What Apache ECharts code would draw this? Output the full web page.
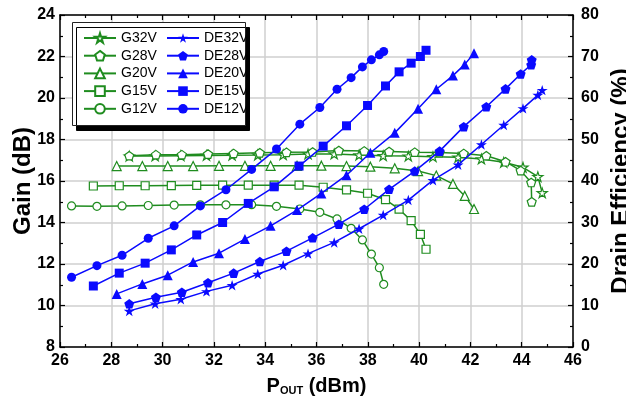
<!DOCTYPE html>
<html>
<head>
<meta charset="utf-8">
<script src="https://cdn.jsdelivr.net/npm/echarts@6/dist/echarts.min.js"></script>
<style>
  html, body { margin: 0; padding: 0; background: #fff; }
  #chart { width: 626px; height: 400px; }
</style>
</head>
<body>
<div id="chart"></div>
<script>
// Pout (dBm) per drain voltage, shared by gain and efficiency curves
const x12 = [26.45, 27.44, 28.42, 29.44, 30.45, 31.47, 32.47, 33.47, 34.44, 35.35, 36.13, 36.8, 37.35, 37.79, 38.14, 38.45, 38.62];
const x15 = [27.3, 28.31, 29.32, 30.34, 31.33, 32.34, 33.34, 34.35, 35.32, 36.26, 37.17, 37.99, 38.69, 39.22, 39.69, 40.05, 40.27];
const x20 = [28.21, 29.21, 30.2, 31.19, 32.2, 33.21, 34.21, 35.24, 36.19, 37.17, 38.1, 39.05, 39.96, 40.67, 41.32, 41.78, 42.14];
const x28 = [28.7, 29.74, 30.75, 31.77, 32.77, 33.79, 34.83, 35.85, 36.87, 37.86, 38.83, 39.83, 40.8, 41.74, 42.62, 43.37, 43.96, 44.37, 44.39];
const x32 = [28.7, 29.71, 30.71, 31.71, 32.71, 33.71, 34.7, 35.67, 36.69, 37.66, 38.6, 39.58, 40.54, 41.52, 42.43, 43.3, 44.05, 44.63, 44.8];

// gain (dB)
const g12 = [14.8, 14.78, 14.8, 14.82, 14.84, 14.85, 14.85, 14.86, 14.78, 14.65, 14.49, 14.17, 13.72, 13.16, 12.48, 11.82, 11.02];
const g15 = [15.76, 15.77, 15.77, 15.78, 15.79, 15.8, 15.8, 15.8, 15.8, 15.7, 15.57, 15.41, 15.1, 14.64, 14.09, 13.43, 12.71];
const g20 = [16.72, 16.72, 16.72, 16.72, 16.73, 16.73, 16.73, 16.73, 16.74, 16.72, 16.69, 16.61, 16.48, 16.26, 15.86, 15.28, 14.65];
const g28 = [17.22, 17.27, 17.27, 17.3, 17.33, 17.36, 17.38, 17.4, 17.47, 17.45, 17.42, 17.39, 17.37, 17.33, 17.22, 16.93, 16.5, 15.93, 15.0];
const g32 = [17.2, 17.21, 17.22, 17.23, 17.24, 17.25, 17.27, 17.3, 17.3, 17.25, 17.22, 17.2, 17.17, 17.14, 17.06, 16.9, 16.66, 16.21, 15.43];

// drain efficiency (%)
const de12 = [16.8, 19.6, 22.1, 26.2, 29.2, 34.0, 37.9, 42.8, 47.7, 53.7, 57.7, 62.1, 64.9, 67.5, 69.2, 70.4, 71.2];
const de15 = [14.7, 17.8, 20.2, 23.4, 27.0, 30.0, 34.6, 38.6, 43.6, 48.4, 53.3, 58.2, 62.9, 66.3, 68.4, 70.0, 71.5];
const de20 = [12.8, 15.2, 17.3, 20.5, 22.6, 26.0, 29.2, 33.0, 37.0, 41.4, 46.8, 51.6, 57.4, 62.1, 65.4, 68.1, 70.8];
const de28 = [10.4, 12.0, 13.2, 15.5, 17.8, 20.6, 23.1, 26.3, 29.6, 33.2, 38.0, 42.4, 47.2, 53.1, 57.9, 62.2, 65.8, 68.0, 69.2];
const de32 = [8.7, 10.4, 11.5, 13.4, 14.9, 17.6, 19.7, 22.5, 25.2, 28.5, 31.8, 35.4, 40.2, 43.9, 48.8, 53.5, 57.5, 60.7, 61.9];

const gainNames = ["G32V", "G28V", "G20V", "G15V", "G12V"];
const effNames = ["DE32V", "DE28V", "DE20V", "DE15V", "DE12V"];

const GREEN = "#1f8c1f";
const BLUE = "#0a0aff";
const FONT = "Liberation Sans";

const STAR = "path://M0,-10L2.245,-3.09L9.51,-3.09L3.633,1.18L5.878,8.09L0,3.82L-5.878,8.09L-3.633,1.18L-9.51,-3.09L-2.245,-3.09Z";
const PENTA = "path://M0,-10L9.51,-3.09L5.878,8.09L-5.878,8.09L-9.51,-3.09Z";

const zip = (xs, ys) => xs.map((x, i) => [x, ys[i]]);

function gainSeries(name, xs, ys, symbol, size) {
  return {
    name, type: "line", xAxisIndex: 0, yAxisIndex: 0,
    data: zip(xs, ys),
    symbol, symbolSize: size, symbolKeepAspect: true,
    color: GREEN,
    itemStyle: { color: "#fff", borderColor: GREEN, borderWidth: 1.2 },
    lineStyle: { color: GREEN, width: 1.5 },
    emphasis: { disabled: true },
    z: 2,
  };
}

function effSeries(name, xs, ys, symbol, size) {
  return {
    name, type: "line", xAxisIndex: 0, yAxisIndex: 1,
    data: zip(xs, ys),
    symbol, symbolSize: size, symbolKeepAspect: true,
    color: BLUE,
    itemStyle: { color: BLUE },
    lineStyle: { color: BLUE, width: 1.5 },
    emphasis: { disabled: true },
    z: 3,
  };
}

const tickLabel = { color: "#000", fontFamily: FONT, fontWeight: "bold", fontSize: 16 };
const nameStyle = { color: "#000", fontFamily: FONT, fontWeight: "bold", fontSize: 24 };
const blackLine = { show: true, lineStyle: { color: "#000", width: 1.5 } };
const grayGrid = { show: true, lineStyle: { color: "#cfcfcf", width: 1.5 } };
const tickIn = { show: true, inside: true, length: 5, lineStyle: { color: "#000", width: 1.2 } };
const minorIn = { show: true, splitNumber: 2, length: 3, lineStyle: { color: "#000", width: 1.2 } };

const legendBase = {
  orient: "vertical",
  top: 31,
  padding: 0,
  itemWidth: 32,
  itemHeight: 12,
  itemGap: 3.7,
  itemTextGap: 5,
  textStyle: { color: "#000", fontFamily: FONT, fontSize: 14, lineHeight: 14 },
  z: 10,
};

const chart = echarts.init(document.getElementById("chart"));
chart.setOption({
  animation: false,
  backgroundColor: "#fff",
  grid: { left: 60, right: 53, top: 15, bottom: 53, containLabel: false, outerBoundsMode: "none" },
  graphic: [{
    type: "rect", left: 72, top: 22, z: 5,
    shape: { width: 173, height: 103 },
    style: { fill: "#fff", stroke: "#222", lineWidth: 1, shadowColor: "#000", shadowOffsetX: 4, shadowOffsetY: 5, shadowBlur: 0 },
  }],
  legend: [
    Object.assign({}, legendBase, { left: 83, data: gainNames }),
    Object.assign({}, legendBase, { left: 166, data: effNames }),
  ],
  xAxis: [
    {
      type: "value", min: 26, max: 46, interval: 2, position: "bottom",
      axisLine: blackLine, axisTick: tickIn, minorTick: minorIn,
      splitLine: grayGrid,
      axisLabel: Object.assign({ margin: 6 }, tickLabel),
      name: "{p|P}{s|OUT}{p| (dBm)}",
      nameLocation: "middle", nameGap: 29, nameMoveOverlap: false,
      nameTextStyle: {
        rich: {
          p: { fontFamily: FONT, fontWeight: "bold", fontSize: 20, color: "#000" },
          s: { fontFamily: FONT, fontWeight: "bold", fontSize: 11, color: "#000", verticalAlign: "bottom", padding: [9, 0, 0, 0] },
        },
      },
    },
    {
      type: "value", min: 26, max: 46, interval: 2, position: "top",
      axisLine: blackLine, axisTick: tickIn, minorTick: minorIn,
      splitLine: { show: false },
      axisLabel: { show: false },
    },
  ],
  yAxis: [
    {
      type: "value", min: 8, max: 24, interval: 2, position: "left",
      axisLine: blackLine, axisTick: tickIn, minorTick: minorIn,
      splitLine: grayGrid,
      axisLabel: Object.assign({ margin: 5 }, tickLabel),
      name: "Gain (dB)", nameLocation: "middle", nameGap: 25, nameRotate: 90, nameMoveOverlap: false,
      nameTextStyle: nameStyle,
    },
    {
      type: "value", min: 0, max: 80, interval: 10, position: "right",
      axisLine: blackLine, axisTick: tickIn, minorTick: minorIn,
      splitLine: { show: false },
      axisLabel: Object.assign({ margin: 8 }, tickLabel),
      name: "Drain Efficiency (%)", nameLocation: "middle", nameGap: 36, nameRotate: 90, nameMoveOverlap: false,
      nameTextStyle: nameStyle,
    },
  ],
  series: [
    gainSeries("G32V", x32, g32, STAR, 10),
    gainSeries("G28V", x28, g28, PENTA, 9),
    gainSeries("G20V", x20, g20, "triangle", 9),
    gainSeries("G15V", x15, g15, "rect", 8),
    gainSeries("G12V", x12, g12, "circle", 8),
    effSeries("DE32V", x32, de32, STAR, 11),
    effSeries("DE28V", x28, de28, PENTA, 10),
    effSeries("DE20V", x20, de20, "triangle", 10),
    effSeries("DE15V", x15, de15, "rect", 9),
    effSeries("DE12V", x12, de12, "circle", 9),
  ],
});
</script>
</body>
</html>
